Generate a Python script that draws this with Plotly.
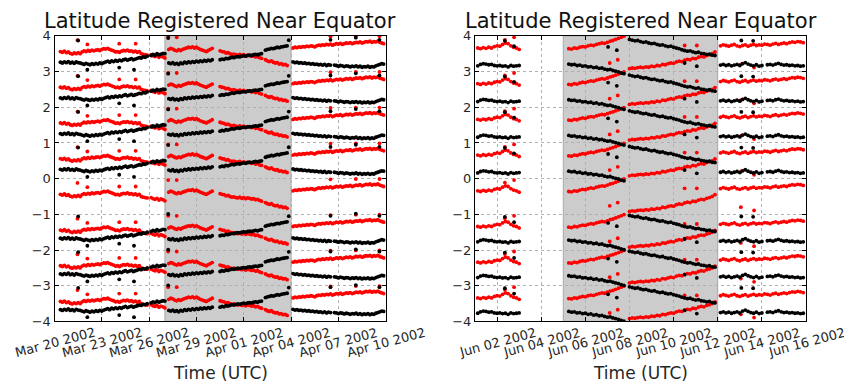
import datetime as dt
import plotly.graph_objects as go

# ---------------------------------------------------------------------------
# Data: latitude tracks (degrees) sampled every 3 hours.  Each segment lists
# the values of the uppermost track; the remaining tracks repeat it at the
# band offsets below.
# ---------------------------------------------------------------------------
SAMPLE_HOURS = 3
RED_BANDS = [0, -1, -2, -3, -4, -5, -6, -7]
BLACK_BANDS = [0, -1, -2, -3, -4.93, -5.93, -6.93]

# March / April 2002 panel
MAR_STARTS = ["2002-03-20 09:00", "2002-03-26 03:00", "2002-03-27 06:00",
              "2002-03-30 12:00", "2002-04-02 09:00", "2002-04-04 03:00"]
MAR_RED = [
    [3.56, 3.54, 3.57, 3.53, 3.55, 3.51, 3.49, 3.52, 3.50, 3.53, 3.50,
     3.55, 3.58, 3.56, 3.59, 3.57, 3.60, 3.58, 3.60, 3.61, 3.59,
     3.62, 3.64, 3.63, 3.65, 3.62, 3.60, 3.58, 3.55, 3.56, 3.54,
     3.57, 3.59, 3.58, 3.60, 3.57, 3.58, 3.55, 3.57, 3.54, 3.56,
     3.50, 3.48, 3.47, 3.46],
    [3.47, 3.44, 3.42, 3.45, 3.40, 3.43, 3.41, 3.38],
    [3.62, 3.65, 3.63, 3.60, 3.58, 3.61, 3.59, 3.62, 3.64, 3.66, 3.68,
     3.67, 3.69, 3.66, 3.68, 3.65, 3.62, 3.60, 3.58, 3.56, 3.59, 3.62, 3.65],
    [3.58, 3.56, 3.55, 3.52, 3.53, 3.50, 3.48, 3.49, 3.47, 3.46, 3.48,
     3.45, 3.47, 3.44, 3.46, 3.45, 3.43, 3.44, 3.41, 3.42, 3.39, 3.37],
    [3.33, 3.30, 3.28, 3.30, 3.26, 3.24, 3.25, 3.21, 3.22, 3.19, 3.20, 3.17],
    [3.66, 3.68, 3.67, 3.69, 3.68, 3.70, 3.69, 3.71, 3.70, 3.72,
     3.71, 3.69, 3.72, 3.74, 3.73, 3.75, 3.74, 3.76, 3.75, 3.77,
     3.74, 3.76, 3.78, 3.77, 3.79, 3.76, 3.78, 3.80, 3.79, 3.81,
     3.78, 3.80, 3.82, 3.81, 3.83, 3.80, 3.82, 3.84, 3.83, 3.85,
     3.82, 3.84, 3.83, 3.85, 3.82, 3.80, 3.78],
]
MAR_BLACK = [
    [3.26, 3.24, 3.27, 3.25, 3.28, 3.24, 3.26, 3.23, 3.27, 3.25, 3.24,
     3.22, 3.20, 3.23, 3.21, 3.19, 3.22, 3.20, 3.23, 3.21, 3.24, 3.22, 3.25,
     3.27, 3.29, 3.26, 3.30, 3.28, 3.31, 3.29, 3.32, 3.30,
     3.33, 3.35, 3.32, 3.34, 3.36, 3.33, 3.35,
     3.37, 3.39, 3.38, 3.41, 3.40, 3.43],
    [3.45, 3.48, 3.46, 3.50, 3.47, 3.49, 3.51, 3.50],
    [3.24, 3.22, 3.25, 3.21, 3.23, 3.20, 3.24, 3.22, 3.26, 3.24, 3.27,
     3.25, 3.28, 3.26, 3.29, 3.27, 3.30, 3.28, 3.31, 3.29, 3.32, 3.30, 3.33],
    [3.33, 3.35, 3.34, 3.37, 3.36, 3.38, 3.40, 3.39, 3.41, 3.42, 3.41,
     3.43, 3.44, 3.43, 3.45, 3.46, 3.45, 3.47, 3.48, 3.47, 3.49, 3.50],
    [3.60, 3.62, 3.63, 3.65, 3.64, 3.66, 3.68, 3.67, 3.69, 3.70, 3.71, 3.72],
    [3.27, 3.25, 3.26, 3.24, 3.25, 3.23, 3.24, 3.22, 3.23, 3.21,
     3.22, 3.20, 3.21, 3.19, 3.20, 3.18, 3.20, 3.17, 3.19, 3.18,
     None, 3.18, 3.17, 3.15, 3.17, 3.16, 3.14, 3.16, 3.15, 3.13,
     3.15, 3.14, 3.16, 3.13, 3.15, 3.12, 3.14, 3.13, 3.15, 3.12,
     3.14, 3.13, 3.16, 3.18, 3.20, 3.22, 3.21],
]
MAR_RED_OUT_T = ["2002-03-21 11:00", "2002-03-22 02:00", "2002-03-24 02:30",
                 "2002-03-25 03:30", "2002-03-27 05:00", "2002-03-27 18:00",
                 "2002-04-06 12:00", "2002-04-08 02:30", "2002-04-09 14:30"]
MAR_RED_OUT_V = [3.88, 3.76, 3.78, 3.78, 3.96, 3.96, 3.98, 3.99, 3.99]
MAR_BLACK_OUT_T = ["2002-03-21 12:00", "2002-03-22 02:00", "2002-03-24 02:30",
                   "2002-03-25 01:00", "2002-03-27 05:00", "2002-04-03 20:30",
                   "2002-04-06 12:00", "2002-04-08 02:30", "2002-04-09 14:30"]
MAR_BLACK_OUT_V = [3.87, 3.05, 3.11, 3.05, 3.94, 3.88, 3.89, 3.95, 3.89]
MAR_SHADE = ["2002-03-27 00:00", "2002-04-04 00:00"]
MAR_RANGE = ["2002-03-20", "2002-04-10"]
MAR_TICKS = ["2002-03-20", "2002-03-23", "2002-03-26", "2002-03-29",
             "2002-04-01", "2002-04-04", "2002-04-07", "2002-04-10"]
MAR_TICK_LABELS = ["Mar 20 2002", "Mar 23 2002", "Mar 26 2002", "Mar 29 2002",
                   "Apr 01 2002", "Apr 04 2002", "Apr 07 2002", "Apr 10 2002"]

# June 2002 panel
JUN_STARTS = ["2002-06-01 03:00", "2002-06-05 06:00",
              "2002-06-08 00:00", "2002-06-12 03:00"]
JUN_RED = [
    [3.66, 3.64, 3.67, 3.65, 3.68, 3.66, 3.70, 3.72, 3.71, 3.76, 3.80,
     3.78, 3.72, 3.68, 3.66, 3.62],
    [3.64, 3.63, 3.66, 3.65, 3.68, 3.70, 3.69, 3.72, 3.74, 3.73, 3.76,
     3.78, 3.80, 3.79, 3.82, 3.85, 3.87, 3.90, 3.93, 3.96, 3.99],
    [3.08, 3.10, 3.09, 3.11, 3.12, 3.11, 3.13, 3.12, 3.15, 3.14, 3.17,
     3.16, 3.20, 3.19, 3.22, 3.24, 3.23, 3.27, 3.29, 3.28, 3.32, 3.34,
     3.33, 3.37, 3.36, 3.40, 3.42, 3.41, 3.45, 3.47, 3.50, 3.55],
    [3.72, 3.75, 3.73, 3.71, 3.74, 3.76, 3.72, 3.70, 3.73, 3.75, 3.71,
     3.74, 3.76, 3.73, 3.75, 3.74, 3.77, 3.76, 3.74, 3.77, 3.79, 3.76,
     3.78, 3.80, 3.78, 3.81, 3.83, 3.82, 3.84, 3.83, 3.81],
]
JUN_BLACK = [
    [3.16, 3.20, 3.22, 3.21, 3.19, 3.20, 3.17, 3.16, 3.17, 3.15, 3.16,
     3.13, 3.17, 3.15, 3.16, 3.17],
    [3.21, 3.19, 3.20, 3.17, 3.18, 3.15, 3.16, 3.13, 3.14, 3.11, 3.12,
     3.09, 3.10, 3.07, 3.05, 3.06, 3.03, 3.01, 2.99, 2.96, 2.94],
    [3.90, 3.88, 3.86, 3.87, 3.84, 3.82, 3.83, 3.80, 3.78, 3.79, 3.76,
     3.74, 3.75, 3.72, 3.70, 3.71, 3.68, 3.66, 3.64, 3.61, 3.59, 3.57,
     3.58, 3.55, 3.53, 3.54, 3.51, 3.50, 3.48, 3.49, 3.46, 3.45],
    [3.18, 3.20, 3.17, 3.19, 3.16, 3.18, 3.20, 3.17, 3.22, 3.25, 3.21,
     3.18, 3.16, 3.19, 3.15, 3.17, None, 3.19, 3.20, 3.18, 3.21, 3.23,
     3.20, 3.18, 3.19, 3.17, 3.18, 3.16, 3.17, 3.15, 3.16],
]
JUN_RED_OUT_T = ["2002-06-02 08:30", "2002-06-02 18:30", "2002-06-07 02:30",
                 "2002-06-07 11:15", "2002-06-10 12:00", "2002-06-11 01:15",
                 "2002-06-13 01:10", "2002-06-13 15:30"]
JUN_RED_OUT_V = [3.89, 3.96, 3.24, 3.33, 3.73, 3.73, 3.20, 3.11]
JUN_BLACK_OUT_T = ["2002-06-02 08:30", "2002-06-02 18:30", "2002-06-07 00:45",
                   "2002-06-07 10:15", "2002-06-10 12:00", "2002-06-11 01:15",
                   "2002-06-13 01:40", "2002-06-13 14:30"]
JUN_BLACK_OUT_V = [3.86, 3.71, 3.69, 3.60, 3.24, 3.15, 3.87, 3.86]
JUN_SHADE = ["2002-06-05 00:00", "2002-06-12 00:00"]
JUN_RANGE = ["2002-06-01", "2002-06-16"]
JUN_TICKS = ["2002-06-02", "2002-06-04", "2002-06-06", "2002-06-08",
             "2002-06-10", "2002-06-12", "2002-06-14", "2002-06-16"]
JUN_TICK_LABELS = ["Jun 02 2002", "Jun 04 2002", "Jun 06 2002", "Jun 08 2002",
                   "Jun 10 2002", "Jun 12 2002", "Jun 14 2002", "Jun 16 2002"]

Y_TICKS = [-4, -3, -2, -1, 0, 1, 2, 3, 4]
Y_TICK_LABELS = ["\u22124", "\u22123", "\u22122", "\u22121", "0", "1", "2", "3", "4"]

TITLE = "Latitude Registered Near Equator"
XLABEL = "Time (UTC)"


def expand(starts, segments):
    """Turn segment start times + sample lists into (time, value) lists."""
    step = dt.timedelta(hours=SAMPLE_HOURS)
    times, vals = [], []
    for start, seg in zip(starts, segments):
        t0 = dt.datetime.fromisoformat(start)
        for i, v in enumerate(seg):
            if v is None:
                continue
            times.append(t0 + i * step)
            vals.append(v)
    return times, vals


def banded(times, vals, offsets):
    xs, ys = [], []
    for off in offsets:
        xs.extend(times)
        ys.extend(v + off for v in vals)
    return xs, ys


FONT = "DejaVu Sans"
TXT = "#262626"
W, H = 844, 391

# plot-area boxes in pixels
L_BOX = (54.5, 385.7)
R_BOX = (475.0, 806.0)
TOP_PX, BOT_PX = 30.0, 327.0


def px_x(p):
    return p / W


def px_y(p):
    return (H - p) / H


fig = go.Figure()

panels = [
    ("x", "y", MAR_STARTS, MAR_RED, MAR_BLACK,
     (MAR_RED_OUT_T, MAR_RED_OUT_V), (MAR_BLACK_OUT_T, MAR_BLACK_OUT_V)),
    ("x2", "y2", JUN_STARTS, JUN_RED, JUN_BLACK,
     (JUN_RED_OUT_T, JUN_RED_OUT_V), (JUN_BLACK_OUT_T, JUN_BLACK_OUT_V)),
]

for xa, ya, starts, red, black, red_out, black_out in panels:
    for segs, outl, color, bands in ((red, red_out, "#ff0000", RED_BANDS),
                                     (black, black_out, "#000000", BLACK_BANDS)):
        t, v = expand(starts, segs)
        t += [dt.datetime.fromisoformat(s) for s in outl[0]]
        v += list(outl[1])
        xs, ys = banded(t, v, bands)
        fig.add_trace(go.Scatter(
            x=xs, y=ys, mode="markers", xaxis=xa, yaxis=ya,
            marker=dict(color=color, size=3.8, line=dict(width=0)),
            showlegend=False, hoverinfo="skip"))

axis_common = dict(
    showline=True, linecolor="#000000", linewidth=1.2, mirror="ticks",
    ticks="inside", ticklen=4, tickcolor="#000000",
    showgrid=True, gridcolor="#b0b0b0", griddash="dot", gridwidth=1,
    zeroline=False,
)

fig.update_layout(
    width=W, height=H, autosize=False,
    margin=dict(l=0, r=0, t=0, b=0),
    paper_bgcolor="#ffffff", plot_bgcolor="#ffffff",
    xaxis=dict(domain=[px_x(L_BOX[0]), px_x(L_BOX[1])], type="date",
               range=MAR_RANGE, tickvals=MAR_TICKS, showticklabels=False,
               anchor="y", **axis_common),
    yaxis=dict(domain=[px_y(BOT_PX), px_y(TOP_PX)], range=[-4, 4],
               tickvals=Y_TICKS, ticktext=Y_TICK_LABELS, anchor="x",
               tickfont=dict(family=FONT, size=13, color=TXT), **axis_common),
    xaxis2=dict(domain=[px_x(R_BOX[0]), px_x(R_BOX[1])], type="date",
                range=JUN_RANGE, tickvals=JUN_TICKS, showticklabels=False,
                anchor="y2", **axis_common),
    yaxis2=dict(domain=[px_y(BOT_PX), px_y(TOP_PX)], range=[-4, 4],
                tickvals=Y_TICKS, ticktext=Y_TICK_LABELS, anchor="x2",
                tickfont=dict(family=FONT, size=13, color=TXT), **axis_common),
)

# shaded intervals (drawn beneath grid and markers)
for xa, ya, span in (("x", "y", MAR_SHADE), ("x2", "y2", JUN_SHADE)):
    fig.add_shape(type="rect", xref=xa, yref=ya,
                  x0=span[0], x1=span[1], y0=-4, y1=4,
                  fillcolor="#cccccc", line=dict(width=0.8, color="#9a9a9a"),
                  layer="below")

annotations = []
for xa, ticks, labels, box in (("x", MAR_TICKS, MAR_TICK_LABELS, L_BOX),
                               ("x2", JUN_TICKS, JUN_TICK_LABELS, R_BOX)):
    for tv, lab in zip(ticks, labels):
        annotations.append(dict(
            x=tv, xref=xa, y=px_y(349), yref="paper", text=lab,
            textangle=-15, showarrow=False, xanchor="center", yanchor="middle",
            font=dict(family=FONT, size=13, color=TXT)))
    cx = px_x((box[0] + box[1]) / 2)
    annotations.append(dict(
        x=cx, xref="paper", y=px_y(14.5), yref="paper", text=TITLE,
        showarrow=False, xanchor="center", yanchor="middle",
        font=dict(family=FONT, size=21, color="#111111")))
    annotations.append(dict(
        x=cx, xref="paper", y=px_y(381), yref="paper", text=XLABEL,
        showarrow=False, xanchor="center", yanchor="middle",
        font=dict(family=FONT, size=17, color=TXT)))

fig.update_layout(annotations=annotations)

fig.write_html("out.html")
